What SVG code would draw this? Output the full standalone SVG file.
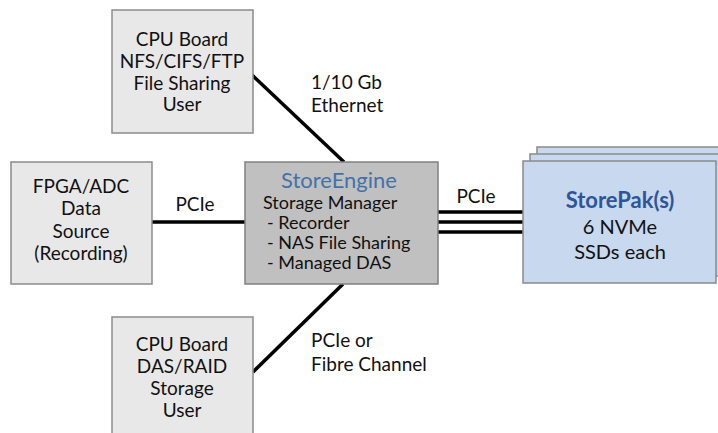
<svg xmlns="http://www.w3.org/2000/svg" width="718" height="433" viewBox="0 0 718 433">
<style>
text{font-family:Lato,"Liberation Sans",sans-serif;font-size:19px;fill:#111;}
.c{text-anchor:middle;}
.s{font-size:18px;}
.gray{fill:#e8e8e8;stroke:#8c8c8c;stroke-width:1.5;}
.mid{fill:#c0c0c0;stroke:#808080;stroke-width:1.5;}
.blue{fill:#c7d8ef;stroke:#8a8a8a;stroke-width:1.5;}
.ln{stroke:#000;stroke-width:3.5;fill:none;}
</style>
<rect width="718" height="433" fill="#fff"/>
<g id="connectors">
<line class="ln" x1="252" y1="75" x2="344" y2="162"/>
<line class="ln" x1="152" y1="222" x2="245" y2="222"/>
<line class="ln" x1="253" y1="372" x2="343" y2="284"/>
<line class="ln" x1="438" y1="212" x2="523" y2="212"/>
<line class="ln" x1="438" y1="222" x2="523" y2="222"/>
<line class="ln" x1="438" y1="232" x2="523" y2="232"/>
<text x="311" y="89">1/10 Gb</text>
<text x="311" y="112">Ethernet</text>
<text class="c" x="195" y="211">PCIe</text>
<text class="c" x="476" y="203">PCIe</text>
<text x="311" y="347">PCIe or</text>
<text x="311" y="371">Fibre Channel</text>
</g>
<g id="cpu-top">
<rect class="gray" x="112" y="10" width="141" height="123"/>
<text class="c" x="182" y="46">CPU Board</text>
<text class="c" x="182" y="68">NFS/CIFS/FTP</text>
<text class="c" x="182" y="90">File Sharing</text>
<text class="c" x="182" y="111">User</text>
</g>
<g id="fpga">
<rect class="gray" x="11" y="162" width="141" height="122"/>
<text class="c" x="81" y="193">FPGA/ADC</text>
<text class="c" x="81" y="215">Data</text>
<text class="c" x="81" y="238">Source</text>
<text class="c" x="81" y="260">(Recording)</text>
</g>
<g id="storeengine">
<rect class="mid" x="245" y="162" width="193" height="122"/>
<text class="c" x="339" y="188" style="fill:#4472a8;font-size:22px">StoreEngine</text>
<text class="s" x="263" y="209">Storage Manager</text>
<text class="s" x="267" y="229">- Recorder</text>
<text class="s" x="267" y="249">- NAS File Sharing</text>
<text class="s" x="267" y="269">- Managed DAS</text>
</g>
<g id="cpu-bottom">
<rect class="gray" x="112" y="317" width="141" height="125"/>
<text class="c" x="182" y="351">CPU Board</text>
<text class="c" x="182" y="373">DAS/RAID</text>
<text class="c" x="182" y="395">Storage</text>
<text class="c" x="182" y="417">User</text>
</g>
<g id="storepak">
<rect class="blue" x="537" y="147" width="200" height="122"/>
<rect class="blue" x="530" y="154" width="200" height="122"/>
<rect class="blue" x="523" y="161" width="193" height="122"/>
<text class="c" x="620" y="208" style="fill:#2f5597;font-weight:bold;font-size:22px">StorePak(s)</text>
<text class="c" x="620" y="234" style="font-size:20px">6 NVMe</text>
<text class="c" x="620" y="259" style="font-size:20px">SSDs each</text>
</g>
</svg>
